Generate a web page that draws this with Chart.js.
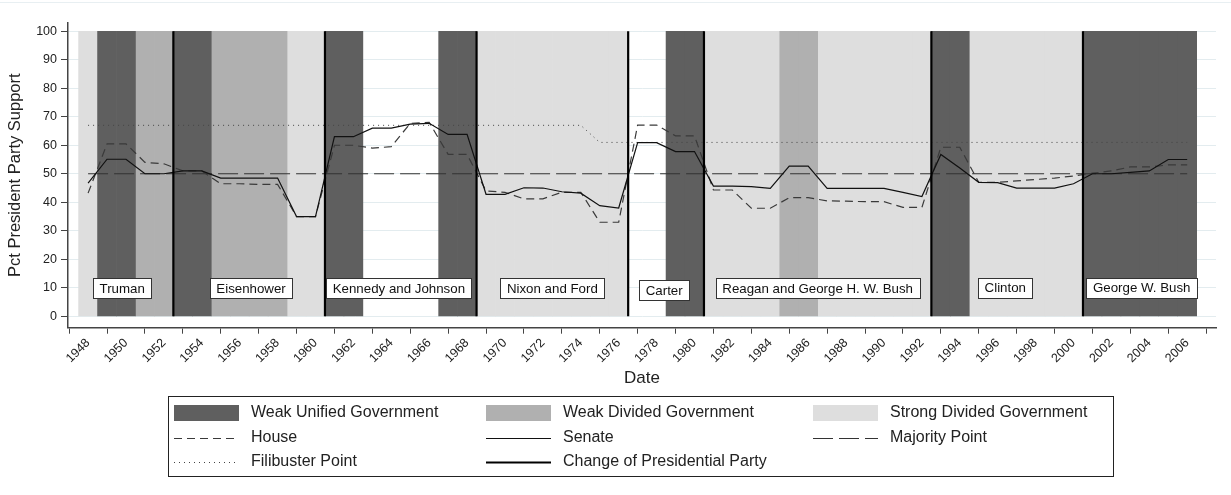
<!DOCTYPE html>
<html>
<head>
<meta charset="utf-8">
<script src="https://cdn.jsdelivr.net/npm/chart.js@4.4.1/dist/chart.umd.min.js"></script>
<style>
  html, body { margin: 0; padding: 0; background: #fff; }
  #wrap { position: relative; width: 1231px; height: 495px; }
  #wrap::before { content: ""; position: absolute; left: 0; right: 0; top: 2px; height: 1px; background: #e8eff2; }
</style>
</head>
<body>
<div id="wrap"><canvas id="chart" width="1231" height="495"></canvas></div>
<script>
// one entry per year
const years = [
  1948, 1949, 1950, 1951, 1952, 1953, 1954, 1955, 1956, 1957,
  1958, 1959, 1960, 1961, 1962, 1963, 1964, 1965, 1966, 1967,
  1968, 1969, 1970, 1971, 1972, 1973, 1974, 1975, 1976, 1977,
  1978, 1979, 1980, 1981, 1982, 1983, 1984, 1985, 1986, 1987,
  1988, 1989, 1990, 1991, 1992, 1993, 1994, 1995, 1996, 1997,
  1998, 1999, 2000, 2001, 2002, 2003, 2004, 2005, 2006
];

// U = weak unified, D = weak divided, S = strong divided, "" = none
const govType = [
  "S", "U", "U", "D", "D", "U", "U", "D", "D", "D",
  "D", "S", "S", "U", "U", "", "", "", "", "U",
  "U", "S", "S", "S", "S", "S", "S", "S", "S", "",
  "", "U", "U", "S", "S", "S", "S", "D", "D", "S",
  "S", "S", "S", "S", "S", "U", "U", "S", "S", "S",
  "S", "S", "S", "U", "U", "U", "U", "U", "U"
];

const house = [
  43.2, 60.5, 60.5, 54, 53.5, 51, 51, 46.5, 46.5, 46.3,
  46.3, 35, 35, 60, 60, 59, 59.5, 67.7, 68, 56.8,
  56.8, 44, 43.5, 41.2, 41.2, 43.5, 43.5, 33, 33, 67.1,
  67.1, 63.3, 63.3, 44.3, 44.3, 37.9, 37.9, 41.6, 41.6, 40.5,
  40.4, 40.2, 40.2, 38.2, 38.2, 59.3, 59.3, 47, 47, 47.5,
  48, 48.5, 49.2, 50.2, 51, 52.4, 52.4, 53.1, 53.1
];

const senate = [
  46.7, 55.1, 55.1, 50, 50, 51, 51, 48.5, 48.5, 48.5,
  48.5, 35, 35, 63, 63, 66, 66, 67.4, 67.7, 63.8,
  63.8, 42.8, 42.8, 45.1, 45, 43.7, 43.2, 38.8, 38, 60.9,
  60.9, 57.8, 57.8, 45.7, 45.7, 45.5, 44.9, 52.7, 52.7, 44.9,
  44.9, 44.9, 44.9, 43.5, 42, 56.8, 52, 47, 46.9, 45,
  45, 45, 46.5, 50, 50, 50.5, 51, 55, 55
];

const filibuster = [
  67, 67, 67, 67, 67, 67, 67, 67, 67, 67,
  67, 67, 67, 67, 67, 67, 67, 67, 67, 67,
  67, 67, 67, 67, 67, 67, 67, 61, 61, 61,
  61, 61, 61, 61, 61, 61, 61, 61, 61, 61,
  61, 61, 61, 61, 61, 61, 61, 61, 61, 61,
  61, 61, 61, 61, 61, 61, 61, 61, 61
];

const majorityPoint = 50;

// first year of a new presidential party
const partyChanges = [1953, 1961, 1969, 1977, 1981, 1993, 2001];

const presidents = ["Truman", "Eisenhower", "Kennedy and Johnson", "Nixon and Ford",
  "Carter", "Reagan and George H. W. Bush", "Clinton", "George W. Bush"];
const presidentMid = [1949.8, 1956.6, 1964.4, 1972.5, 1978.4, 1986.5, 1996.4, 2003.6];
const presidentLabelY = [9.8, 9.8, 9.8, 9.8, 9.2, 9.8, 10.1, 10.1];

const yTicks = [0, 10, 20, 30, 40, 50, 60, 70, 80, 90, 100];
const xTicks = [1948, 1950, 1952, 1954, 1956, 1958, 1960, 1962, 1964, 1966,
  1968, 1970, 1972, 1974, 1976, 1978, 1980, 1982, 1984, 1986,
  1988, 1990, 1992, 1994, 1996, 1998, 2000, 2002, 2004, 2006];

const FONT = '"Liberation Sans", Arial, sans-serif';
Chart.defaults.font.family = FONT;
Chart.defaults.color = "#222";

const bandColors = { U: "#5f5f5f", D: "#b0b0b0", S: "#dedede" };
const bandLabels = { U: "Weak Unified Government", D: "Weak Divided Government", S: "Strong Divided Government" };

const bands = ["U", "D", "S"].map(code => ({
  type: "bar",
  label: bandLabels[code],
  data: years.map((x, i) => ({ x, y: govType[i] === code ? 100 : null })),
  backgroundColor: bandColors[code],
  borderWidth: 0,
  grouped: false,
  barPercentage: 1,
  categoryPercentage: 1,
  order: 10
}));

const lineBase = { type: "line", pointRadius: 0, tension: 0, fill: false };

const datasets = [
  ...bands,
  { ...lineBase, label: "House", data: years.map((x, i) => ({ x, y: house[i] })),
    borderColor: "#3a3a3a", borderWidth: 1.2, borderDash: [8, 5], order: 2 },
  { ...lineBase, label: "Senate", data: years.map((x, i) => ({ x, y: senate[i] })),
    borderColor: "#111", borderWidth: 1.2, order: 1 },
  { ...lineBase, label: "Majority Point",
    data: [{ x: years[0], y: majorityPoint }, { x: years[years.length - 1], y: majorityPoint }],
    borderColor: "#333", borderWidth: 1.2, borderDash: [20, 6], order: 3 },
  { ...lineBase, label: "Filibuster Point", data: years.map((x, i) => ({ x, y: filibuster[i] })),
    borderColor: "#444", borderWidth: 1, borderDash: [1, 4], order: 3 },
  { ...lineBase, label: "Change of Presidential Party",
    data: partyChanges.flatMap(yr => [{ x: yr - 0.5, y: 0 }, { x: yr - 0.5, y: 100 }, { x: yr - 0.5, y: null }]),
    borderColor: "#000", borderWidth: 2.2, spanGaps: false, order: 0 }
];

// white boxes naming each administration
const presidentBoxes = {
  id: "presidentBoxes",
  afterDatasetsDraw(chart) {
    const { ctx, scales: { x, y } } = chart;
    ctx.save();
    ctx.font = "13.3px " + FONT;
    ctx.textAlign = "center";
    ctx.textBaseline = "middle";
    presidents.forEach((name, i) => {
      const cx = x.getPixelForValue(presidentMid[i]);
      const cy = y.getPixelForValue(presidentLabelY[i]);
      const w = Math.round(ctx.measureText(name).width + 13);
      const h = 20;
      const left = Math.round(cx - w / 2) + 0.5;
      const top = Math.round(cy - h / 2) + 0.5;
      ctx.fillStyle = "#fff";
      ctx.fillRect(left, top, w, h);
      ctx.strokeStyle = "#333";
      ctx.lineWidth = 1;
      ctx.strokeRect(left, top, w, h);
      ctx.fillStyle = "#111";
      ctx.fillText(name, cx, cy + 1);
    });
    ctx.restore();
  }
};

// three-column legend in a frame under the plot
const legendBox = {
  id: "legendBox",
  afterDraw(chart) {
    const { ctx } = chart;
    const colX = [174, 486, 813];
    const rowY = [413, 437.5, 462];
    ctx.save();
    ctx.strokeStyle = "#222";
    ctx.lineWidth = 1;
    ctx.strokeRect(168.5, 396.5, 945, 80);
    ctx.font = "16px " + FONT;
    ctx.textBaseline = "middle";
    ctx.textAlign = "left";
    chart.data.datasets.forEach((ds, i) => {
      const sx = colX[i % 3];
      const cy = rowY[Math.floor(i / 3)];
      if (ds.type === "bar") {
        ctx.fillStyle = ds.backgroundColor;
        ctx.fillRect(sx, cy - 8, 65, 16);
      } else {
        ctx.strokeStyle = ds.borderColor;
        ctx.lineWidth = ds.borderWidth;
        ctx.setLineDash(ds.borderDash || []);
        ctx.beginPath();
        ctx.moveTo(sx, Math.round(cy) + 0.5);
        ctx.lineTo(sx + 65, Math.round(cy) + 0.5);
        ctx.stroke();
        ctx.setLineDash([]);
      }
      ctx.fillStyle = "#222";
      ctx.fillText(ds.label, sx + 77, cy);
    });
    ctx.restore();
  }
};

new Chart(document.getElementById("chart").getContext("2d"), {
  type: "line",
  data: { datasets },
  plugins: [presidentBoxes, legendBox],
  options: {
    responsive: false,
    animation: false,
    layout: { padding: { left: 0, right: 15, top: 22.7, bottom: 106.8 } },
    plugins: { legend: { display: false }, tooltip: { enabled: false } },
    scales: {
      x: {
        type: "linear",
        min: 1946.94,
        max: 2007.52,
        offset: false,
        afterBuildTicks: axis => { axis.ticks = xTicks.map(value => ({ value })); },
        afterFit: axis => { axis.height = 60.5; },
        ticks: {
          autoSkip: false,
          minRotation: 45,
          maxRotation: 45,
          padding: 2,
          font: { size: 12.5 },
          callback: v => String(v)
        },
        grid: { drawOnChartArea: false, tickLength: 6, tickColor: "#444" },
        border: { color: "#444", width: 1.5 },
        title: { display: true, text: "Date", font: { size: 17 }, padding: { top: 0, bottom: 0 } }
      },
      y: {
        min: -4,
        max: 103,
        afterBuildTicks: axis => { axis.ticks = yTicks.map(value => ({ value })); },
        afterFit: axis => { axis.width = 68; },
        ticks: { padding: 4, font: { size: 12.5 }, callback: v => String(v) },
        grid: { color: "#e3ecef", tickLength: 7, tickColor: "#444" },
        border: { color: "#444", width: 1.5 },
        title: { display: true, text: "Pct President Party Support", font: { size: 16.5 }, padding: { top: 6, bottom: 0 } }
      }
    }
  }
});
</script>
</body>
</html>
